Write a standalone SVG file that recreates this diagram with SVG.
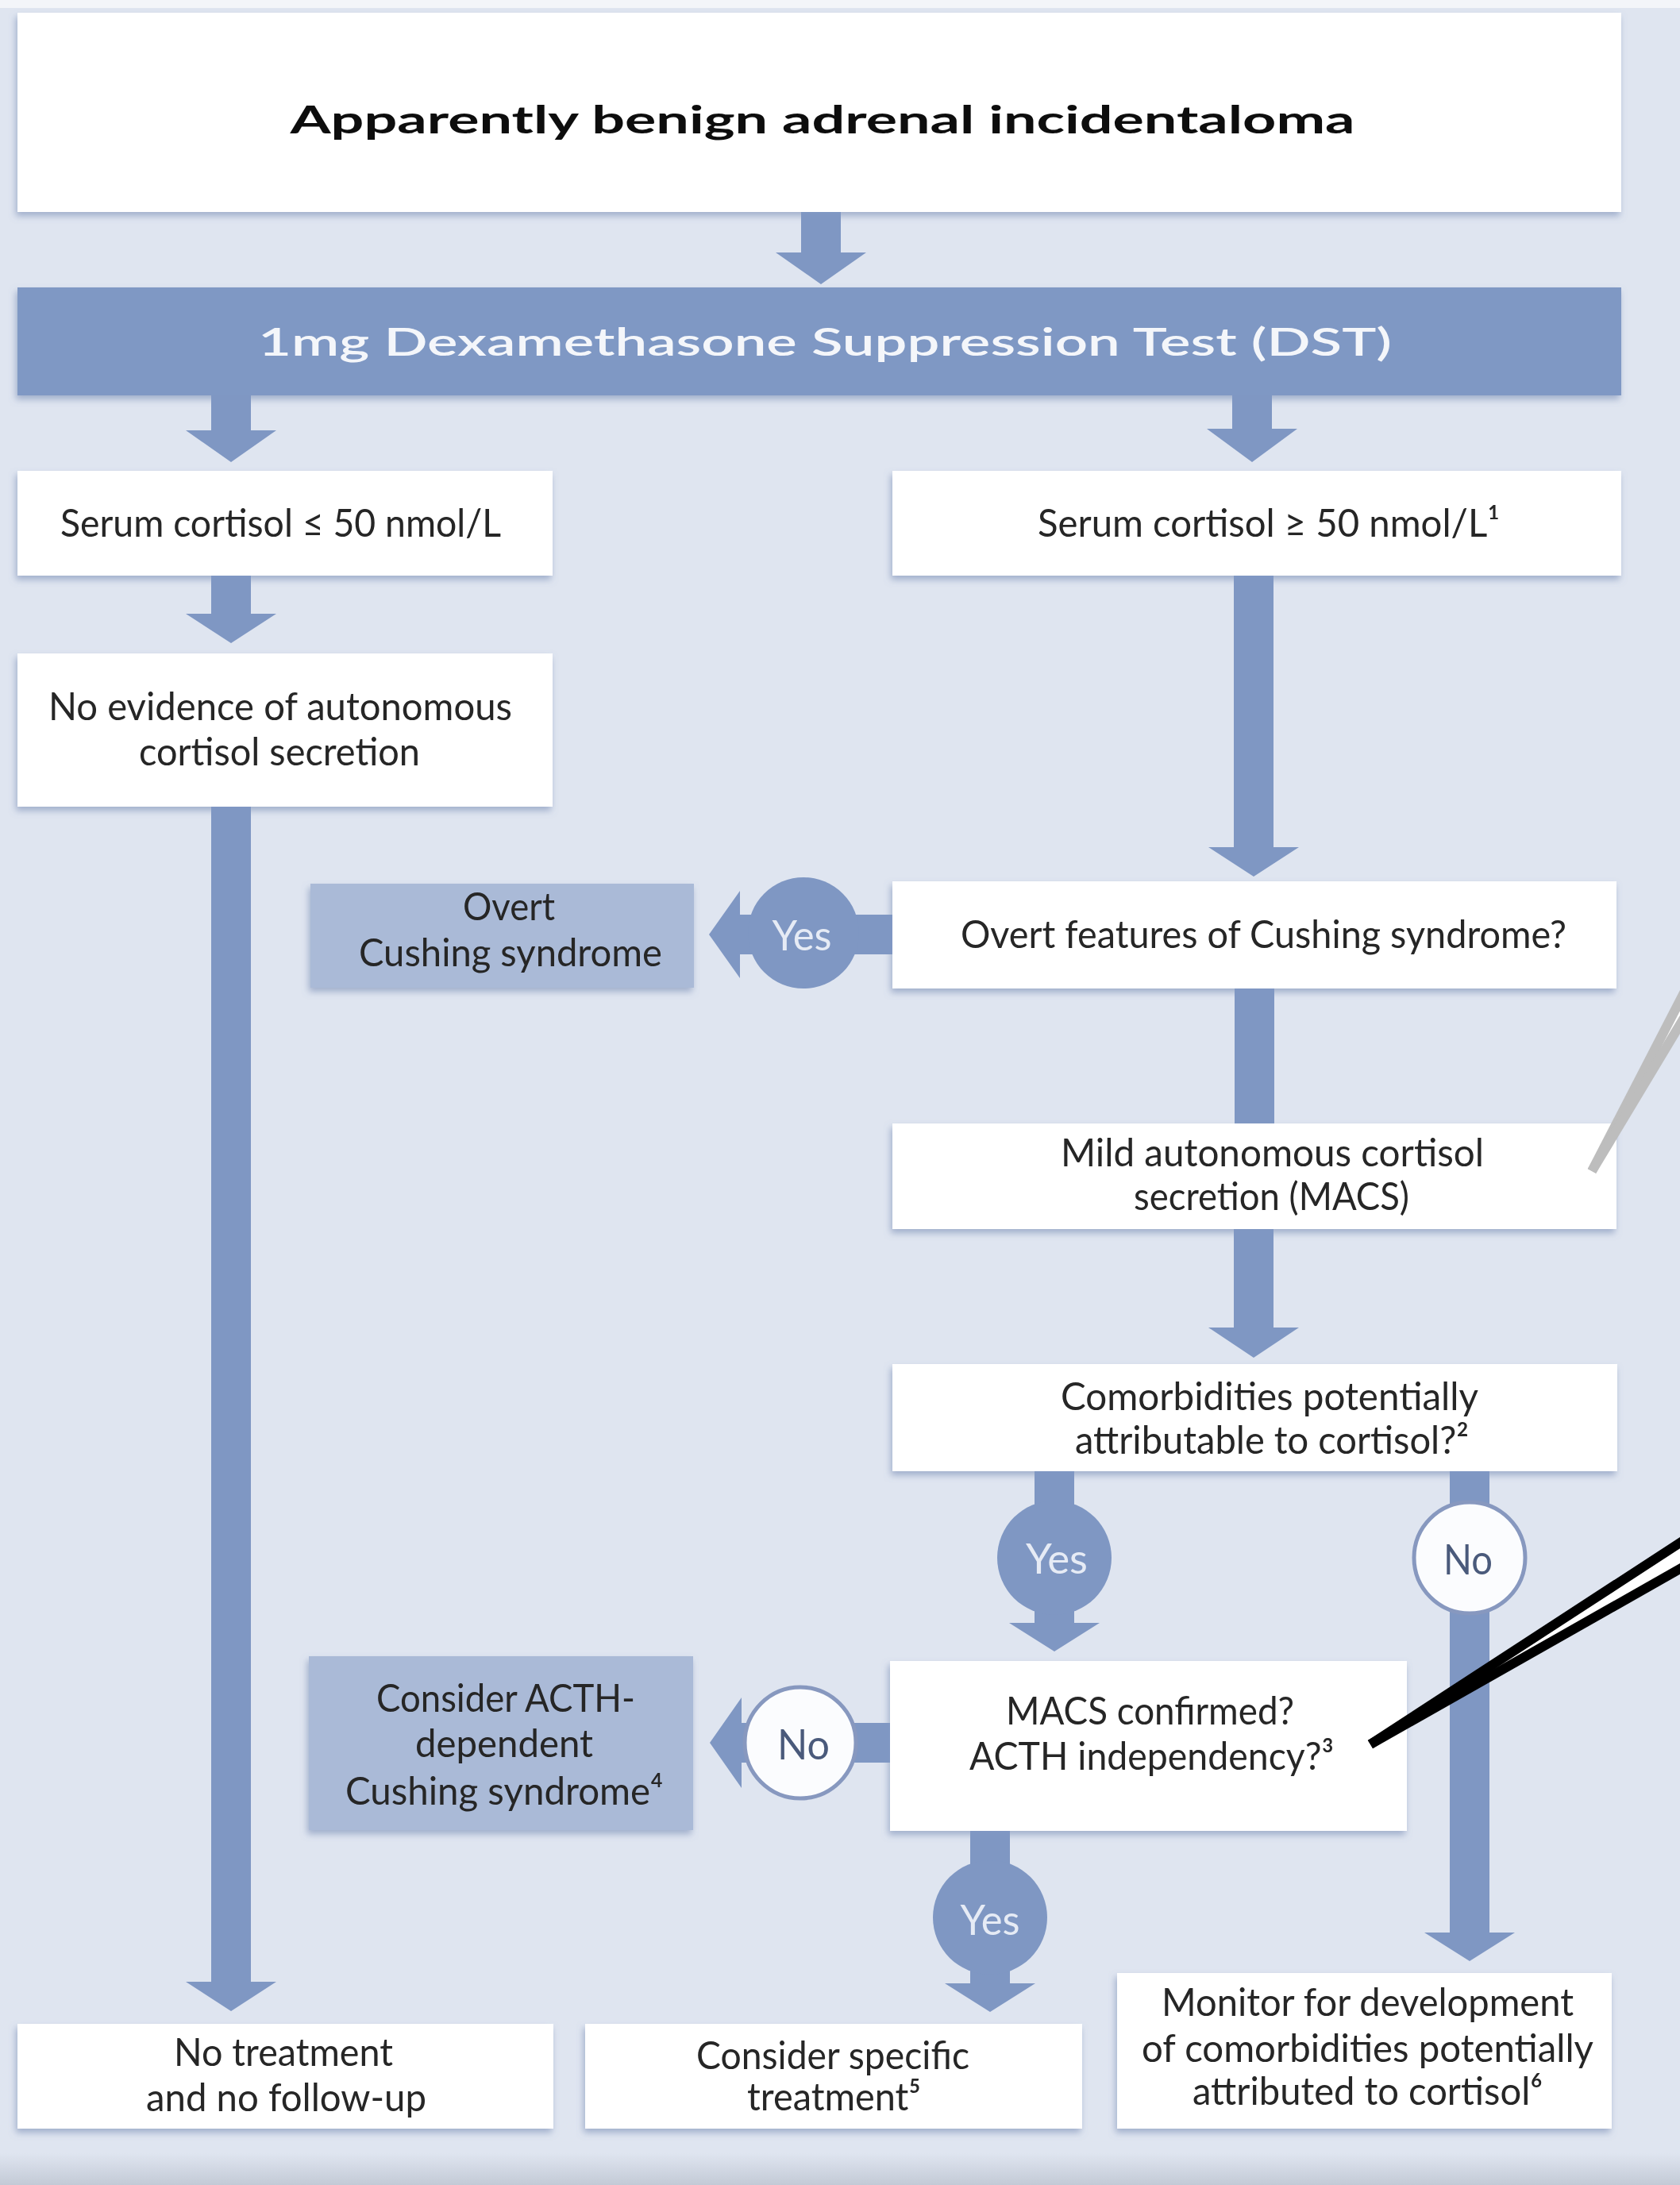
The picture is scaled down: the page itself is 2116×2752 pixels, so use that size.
<svg xmlns="http://www.w3.org/2000/svg" width="2116" height="2752" viewBox="0 0 2116 2752">
<defs>
<style>
.box{fill:#ffffff}
.bbox{fill:#aabad7}
.dst{fill:#7f98c4}
.arr{fill:#7f97c3}
.cb{fill:#7f97c3}
.cw{fill:#fbfcfe;stroke:#8798bf;stroke-width:5}
.t{font-family:Lato,"DejaVu Sans","Liberation Sans",sans-serif;font-size:48px;fill:#262626;text-anchor:middle}
.lab{font-family:Lato,"Liberation Sans",sans-serif;font-size:52px;text-anchor:middle}
.yes{fill:#e6ebf5}
.no{fill:#4a5a7b}
</style>
<filter id="sh" x="-5%" y="-10%" width="110%" height="130%">
<feDropShadow dx="-2" dy="5" stdDeviation="4" flood-color="#6c82ad" flood-opacity="0.55"/>
</filter>
<linearGradient id="btm" x1="0" y1="0" x2="0" y2="1">
<stop offset="0" stop-color="#dfe5f0"/>
<stop offset="1" stop-color="#c3cad6"/>
</linearGradient>
</defs>
<rect x="0" y="0" width="2116" height="2752" fill="#dfe5f0"/>
<rect x="0" y="0" width="2116" height="10" fill="#f3f5f9"/>
<rect x="0" y="2712" width="2116" height="40" fill="url(#btm)"/>

<g id="n-top" filter="url(#sh)">
<rect class="box" x="22" y="16" width="2020" height="251"/>
<text class="t" x="1036" y="168" font-size="76" font-weight="700" style="fill:#111" textLength="1341" lengthAdjust="spacingAndGlyphs">Apparently benign adrenal incidentaloma</text>
</g>
<g id="n-dst" filter="url(#sh)">
<rect class="dst" x="22" y="362" width="2020" height="136"/>
<text class="t" x="1039" y="448" font-size="70" font-weight="600" style="fill:#f4f6fa" textLength="1428" lengthAdjust="spacingAndGlyphs">1mg Dexamethasone Suppression Test (DST)</text>
</g>
<g id="n-low" filter="url(#sh)">
<rect class="box" x="22" y="593" width="674" height="132"/>
<text class="t" x="353.5" y="676" textLength="555" lengthAdjust="spacingAndGlyphs">Serum cortisol ≤ 50 nmol/L</text>
</g>
<g id="n-high" filter="url(#sh)">
<rect class="box" x="1124" y="593" width="918" height="132"/>
<text class="t" x="1598" y="676" textLength="582" lengthAdjust="spacingAndGlyphs">Serum cortisol ≥ 50 nmol/L¹</text>
</g>
<g id="n-noevidence" filter="url(#sh)">
<rect class="box" x="22" y="823" width="674" height="193"/>
<text class="t" x="353" y="907" textLength="584" lengthAdjust="spacingAndGlyphs">No evidence of autonomous</text>
<text class="t" x="352" y="964" textLength="354" lengthAdjust="spacingAndGlyphs">cortisol secretion</text>
</g>
<g id="n-overtcs" filter="url(#sh)">
<rect class="bbox" x="391" y="1113" width="483" height="131"/>
<text class="t" x="641" y="1159" textLength="116" lengthAdjust="spacingAndGlyphs">Overt</text>
<text class="t" x="643" y="1217" textLength="382" lengthAdjust="spacingAndGlyphs">Cushing syndrome</text>
</g>
<g id="n-overtq" filter="url(#sh)">
<rect class="box" x="1124" y="1110" width="912" height="135"/>
<text class="t" x="1591.5" y="1194" textLength="763" lengthAdjust="spacingAndGlyphs">Overt features of Cushing syndrome?</text>
</g>
<g id="n-macs" filter="url(#sh)">
<rect class="box" x="1124" y="1415" width="912" height="133"/>
<text class="t" x="1602.5" y="1469" textLength="533" lengthAdjust="spacingAndGlyphs">Mild autonomous cortisol</text>
<text class="t" x="1601.5" y="1524" textLength="347" lengthAdjust="spacingAndGlyphs">secretion (MACS)</text>
</g>
<g id="n-comorb" filter="url(#sh)">
<rect class="box" x="1124" y="1718" width="913" height="135"/>
<text class="t" x="1599" y="1776" textLength="526" lengthAdjust="spacingAndGlyphs">Comorbidities potentially</text>
<text class="t" x="1602" y="1831" textLength="496" lengthAdjust="spacingAndGlyphs">attributable to cortisol?²</text>
</g>
<g id="n-confirmed" filter="url(#sh)">
<rect class="box" x="1121" y="2092" width="651" height="214"/>
<text class="t" x="1448.5" y="2172" textLength="363" lengthAdjust="spacingAndGlyphs">MACS confirmed?</text>
<text class="t" x="1450.5" y="2229" textLength="459" lengthAdjust="spacingAndGlyphs">ACTH independency?³</text>
</g>
<g id="n-acthdep" filter="url(#sh)">
<rect class="bbox" x="389" y="2086" width="484" height="219"/>
<text class="t" x="637" y="2156" textLength="326" lengthAdjust="spacingAndGlyphs">Consider ACTH-</text>
<text class="t" x="635" y="2213" textLength="224" lengthAdjust="spacingAndGlyphs">dependent</text>
<text class="t" x="635" y="2273" textLength="400" lengthAdjust="spacingAndGlyphs">Cushing syndrome⁴</text>
</g>
<g id="n-notreat" filter="url(#sh)">
<rect class="box" x="22" y="2549" width="675" height="132"/>
<text class="t" x="357" y="2602" textLength="276" lengthAdjust="spacingAndGlyphs">No treatment</text>
<text class="t" x="360.5" y="2659" textLength="353" lengthAdjust="spacingAndGlyphs">and no follow-up</text>
</g>
<g id="n-specific" filter="url(#sh)">
<rect class="box" x="737" y="2549" width="626" height="132"/>
<text class="t" x="1049" y="2606" textLength="344" lengthAdjust="spacingAndGlyphs">Consider specific</text>
<text class="t" x="1050.5" y="2658" textLength="219" lengthAdjust="spacingAndGlyphs">treatment⁵</text>
</g>
<g id="n-monitor" filter="url(#sh)">
<rect class="box" x="1407" y="2485" width="623" height="196"/>
<text class="t" x="1722.5" y="2539" textLength="519" lengthAdjust="spacingAndGlyphs">Monitor for development</text>
<text class="t" x="1722.5" y="2597" textLength="569" lengthAdjust="spacingAndGlyphs">of comorbidities potentially</text>
<text class="t" x="1722.5" y="2651" textLength="441" lengthAdjust="spacingAndGlyphs">attributed to cortisol⁶</text>
</g>

<g id="connectors">
<path class="arr" d="M1009 267 H1059 V318 H1091 L1034 358 L977 318 H1009 Z"/>
<path class="arr" d="M266 498 H316 V542 H348 L291 582 L234 542 H266 Z"/>
<path class="arr" d="M1552 498 H1602 V540 H1634 L1577 582 L1520 540 H1552 Z"/>
<path class="arr" d="M266 725 H316 V773 H348 L291 810 L234 773 H266 Z"/>
<path class="arr" d="M1554 725 H1604 V1067 H1636 L1579 1104 L1522 1067 H1554 Z"/>
<rect class="arr" x="1555" y="1245" width="50" height="170"/>
<path class="arr" d="M1554 1548 H1604 V1672 H1636 L1579 1710 L1522 1672 H1554 Z"/>
<path class="arr" d="M266 1016 H316 V2496 H348 L291 2533 L234 2496 H266 Z"/>

<path class="arr" d="M1124 1152 V1202 H932 V1232 L893 1177 L932 1122 V1152 Z"/>
<circle class="cb" cx="1012" cy="1175" r="70"/>
<text class="lab yes" x="1010" y="1197" textLength="75" lengthAdjust="spacingAndGlyphs">Yes</text>

<path class="arr" d="M1303 1853 H1353 V2044 H1385 L1328 2080 L1271 2044 H1303 Z"/>
<circle class="cb" cx="1328" cy="1962" r="72"/>
<text class="lab yes" x="1331" y="1982" textLength="78" lengthAdjust="spacingAndGlyphs">Yes</text>

<path class="arr" d="M1826 1853 H1876 V2434 H1908 L1851 2470 L1794 2434 H1826 Z"/>
<circle class="cw" cx="1851" cy="1962" r="70"/>
<text class="lab no" x="1849" y="1983" textLength="62" lengthAdjust="spacingAndGlyphs">No</text>

<path class="arr" d="M1121 2170 V2220 H934 V2252 L894 2195 L934 2138 V2170 Z"/>
<circle class="cw" cx="1008" cy="2195" r="70"/>
<text class="lab no" x="1012" y="2216" textLength="66" lengthAdjust="spacingAndGlyphs">No</text>

<path class="arr" d="M1222 2306 H1272 V2498 H1304 L1247 2534 L1190 2498 H1222 Z"/>
<circle class="cb" cx="1247" cy="2415" r="72"/>
<text class="lab yes" x="1247" y="2437" textLength="75" lengthAdjust="spacingAndGlyphs">Yes</text>
</g>

<g id="callout-gray">
<polygon points="2005,1475 2130,1233 2130,1267" fill="#ffffff"/>
<line x1="2005" y1="1475" x2="2130" y2="1233" stroke="#bdbdbd" stroke-width="12"/>
<line x1="2005" y1="1475" x2="2130" y2="1267" stroke="#bdbdbd" stroke-width="12"/>
</g>
<g id="callout-black">
<polygon points="1726,2197 2130,1934 2130,1968" fill="#ffffff"/>
<line x1="1726" y1="2197" x2="2130" y2="1934" stroke="#000" stroke-width="12"/>
<line x1="1726" y1="2197" x2="2130" y2="1968" stroke="#000" stroke-width="12"/>
</g>
</svg>
